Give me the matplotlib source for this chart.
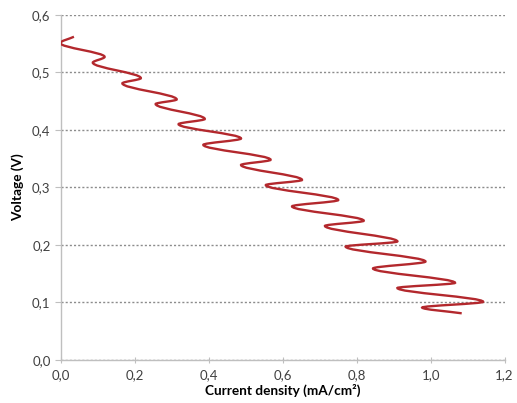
import matplotlib
matplotlib.use("Agg")
import matplotlib.pyplot as plt
from matplotlib.path import Path
from matplotlib.patches import PathPatch
from matplotlib.ticker import FuncFormatter

plt.rcParams['font.family'] = ['Lato', 'DejaVu Sans']

# turning points of the wavy polarisation curve
current = [0.035, -0.002, 0.118, 0.086, 0.216, 0.166, 0.313, 0.256, 0.389, 0.318,
           0.487, 0.385, 0.567, 0.487, 0.652, 0.554, 0.750, 0.625, 0.819, 0.714,
           0.910, 0.770, 0.986, 0.844, 1.066, 0.910, 1.142, 0.977, 1.084]
voltage = [0.562, 0.551, 0.527, 0.517, 0.490, 0.481, 0.453, 0.445, 0.419, 0.410,
           0.385, 0.374, 0.348, 0.339, 0.313, 0.304, 0.278, 0.267, 0.242, 0.233,
           0.206, 0.197, 0.171, 0.159, 0.134, 0.125, 0.101, 0.091, 0.081]

x_ticks = [0.0, 0.2, 0.4, 0.6, 0.8, 1.0, 1.2]
y_ticks = [0.0, 0.1, 0.2, 0.3, 0.4, 0.5, 0.6]

fig = plt.figure(figsize=(5.17, 4.03), dpi=100)
ax = fig.add_axes([0.118, 0.107, 0.858, 0.856])

# smooth curve: bezier segments with vertical tangents at each turning point
verts = [(current[0], voltage[0])]
codes = [Path.MOVETO]
n = len(current)
for i in range(n - 1):
    x0, y0 = current[i], voltage[i]
    x1, y1 = current[i + 1], voltage[i + 1]
    dy = y1 - y0
    c1 = (x0, y0 + dy / 3) if i > 0 else (x0 + (x1 - x0) / 3, y0 + dy / 3)
    c2 = (x1, y1 - dy / 3) if i < n - 2 else (x1 - (x1 - x0) / 3, y1 - dy / 3)
    verts += [c1, c2, (x1, y1)]
    codes += [Path.CURVE4] * 3
ax.add_patch(PathPatch(Path(verts, codes), facecolor='none', edgecolor='#B3282D',
                       lw=1.7, transform=ax.transData, zorder=3))

ax.set_xlim(0, 1.2)
ax.set_ylim(0, 0.6)
ax.set_xticks(x_ticks)
ax.set_yticks(y_ticks)
fmt = FuncFormatter(lambda v, p: f"{v:.1f}".replace('.', ','))
ax.xaxis.set_major_formatter(fmt)
ax.yaxis.set_major_formatter(fmt)

ax.grid(axis='y', linestyle=(0, (1.5, 1.5)), color='#8c8c8c', lw=1.0)
ax.set_axisbelow(True)
for s in ['top', 'right']:
    ax.spines[s].set_visible(False)
for s in ['left', 'bottom']:
    ax.spines[s].set_color('#bfbfbf')
    ax.spines[s].set_linewidth(1.0)
ax.tick_params(axis='both', colors='#bfbfbf', labelcolor='#404040', labelsize=9.5)
ax.tick_params(axis='x', direction='inout', length=5, pad=4)
ax.tick_params(axis='y', direction='out', length=4)

ax.set_xlabel('Current density (mA/cm²)', fontsize=9.8, fontweight='bold', labelpad=2)
ax.set_ylabel('Voltage (V)', fontsize=9.8, fontweight='bold', labelpad=6)

fig.savefig('out.png', dpi=100)
